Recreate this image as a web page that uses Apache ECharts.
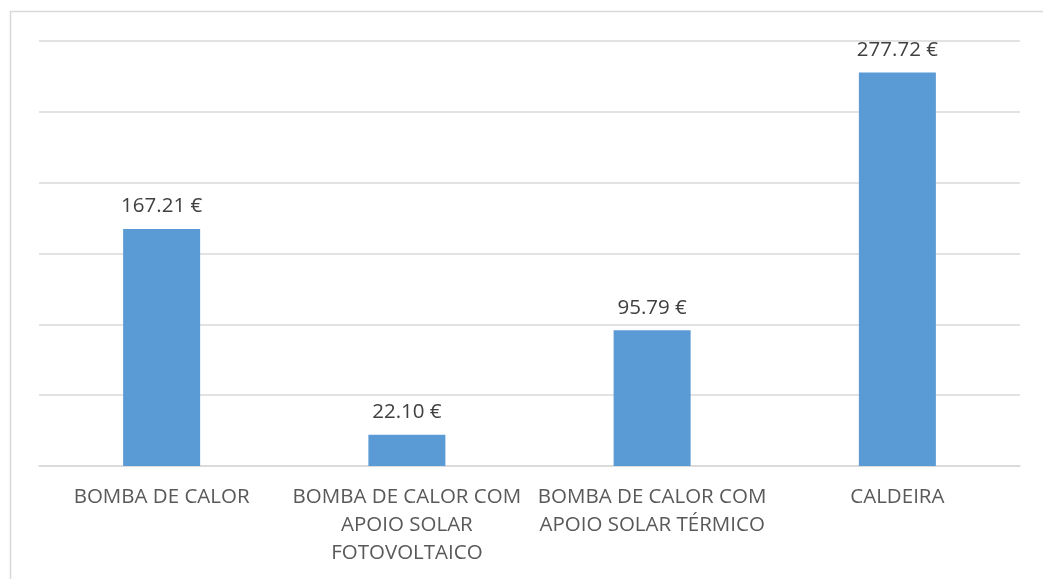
<!DOCTYPE html>
<html>
<head>
<meta charset="utf-8">
<script src="https://cdn.jsdelivr.net/npm/echarts@6/dist/echarts.min.js"></script>
<style>
  html, body { margin: 0; padding: 0; background: #fff; }
  #chart { width: 1043px; height: 579px; }
</style>
</head>
<body>
<div id="chart"></div>
<script>
// Annual cost per heating system (€)
const categories = [
  'BOMBA DE CALOR',
  'BOMBA DE CALOR COM\nAPOIO SOLAR\nFOTOVOLTAICO',
  'BOMBA DE CALOR COM\nAPOIO SOLAR TÉRMICO',
  'CALDEIRA'
];
const costs = [167.21, 22.10, 95.79, 277.72];

const FONT = 'Open Sans';

const chart = echarts.init(document.getElementById('chart'));
chart.setOption({
  animation: false,
  backgroundColor: '#ffffff',
  graphic: [{
    type: 'rect',
    shape: { x: 10.5, y: 11.5, width: 1100, height: 700 },
    style: { fill: 'none', stroke: '#d9d9d9', lineWidth: 1.5 },
    silent: true,
    z: -10
  }],
  grid: { left: 39, right: 23, top: 41, bottom: 113 },
  xAxis: {
    type: 'category',
    data: categories,
    axisLine: { lineStyle: { color: '#d9d9d9', width: 1.5 } },
    axisTick: { show: false },
    axisLabel: {
      color: '#595959',
      fontFamily: FONT,
      fontSize: 20.5,
      lineHeight: 28,
      margin: 17,
      interval: 0
    }
  },
  yAxis: {
    type: 'value',
    min: 0,
    max: 300,
    interval: 50,
    axisLabel: { show: false },
    axisLine: { show: false },
    axisTick: { show: false },
    splitLine: { lineStyle: { color: '#d9d9d9', width: 1.5 } }
  },
  series: [{
    type: 'bar',
    data: costs,
    barWidth: '31.4%',
    itemStyle: { color: '#5b9bd5' },
    label: {
      show: true,
      position: 'top',
      distance: 12,
      color: '#404040',
      fontFamily: FONT,
      fontSize: 20.5,
      formatter: p => p.value.toFixed(2) + ' €'
    }
  }]
});
</script>
</body>
</html>
